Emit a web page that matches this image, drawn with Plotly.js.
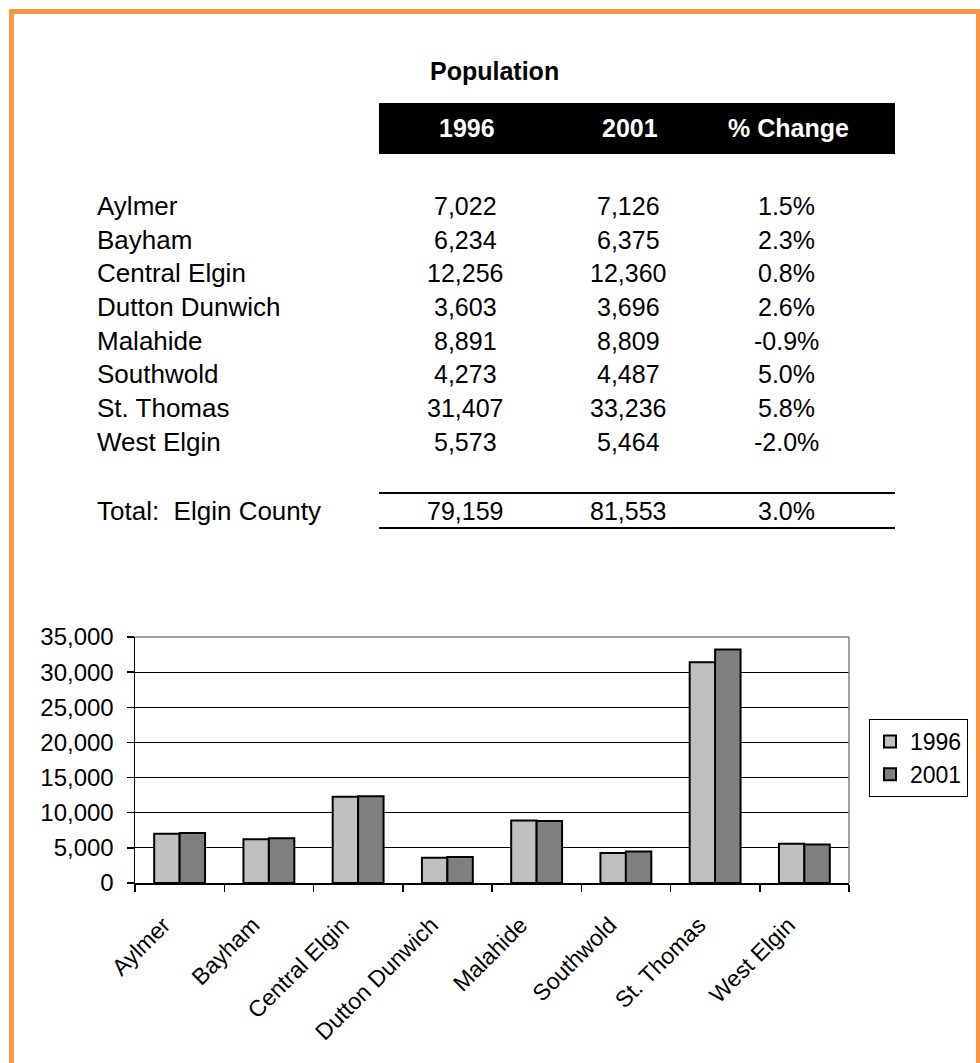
<!DOCTYPE html>
<html>
<head>
<meta charset="utf-8">
<script src="https://cdn.plot.ly/plotly-3.0.1.min.js"></script>
<style>html,body{margin:0;padding:0;background:#fff;}#chart{width:980px;height:1063px;}</style>
</head>
<body>
<div id="chart"></div>
<script>
// ---- data ----
const municipalities = ["Aylmer","Bayham","Central Elgin","Dutton Dunwich","Malahide","Southwold","St. Thomas","West Elgin"];
const pop1996 = [7022, 6234, 12256, 3603, 8891, 4273, 31407, 5573];
const pop2001 = [7126, 6375, 12360, 3696, 8809, 4487, 33236, 5464];
const pctChange = ["1.5%","2.3%","0.8%","2.6%","-0.9%","5.0%","5.8%","-2.0%"];
const headerLabels = ["1996","2001","% Change"];
const tableTitle = "Population";
const totalLabel = "Total:  Elgin County";
const totalValues = ["79,159","81,553","3.0%"];
const seriesNames = ["1996","2001"];

// ---- layout helpers (pixel -> paper) ----
const W = 980, H = 1063;
const px = x => x / W;
const py = y => 1 - y / H;
const FONT = "'Liberation Sans', Arial, sans-serif";
const fmt = n => n.toLocaleString("en-US");

const colX = [465, 628, 786];
const rowY0 = 206, rowStep = 33.7;

const annotations = [];
annotations.push({xref:"paper", yref:"paper", x:px(494), y:py(71), text:"<b>"+tableTitle+"</b>", showarrow:false,
  xanchor:"center", yanchor:"middle", font:{family:FONT, size:25, color:"#000"}});
headerLabels.forEach((h,i)=>annotations.push({xref:"paper", yref:"paper", x:px(colX[i]+2), y:py(128), text:"<b>"+h+"</b>",
  showarrow:false, xanchor:"center", yanchor:"middle", font:{family:FONT, size:25, color:"#fff"}}));
municipalities.forEach((m,r)=>{
  const y = py(rowY0 + r*rowStep);
  const cells = [fmt(pop1996[r]), fmt(pop2001[r]), pctChange[r]];
  annotations.push({xref:"paper", yref:"paper", x:px(95), y:y, text:m, showarrow:false, xanchor:"left", yanchor:"middle",
    font:{family:FONT, size:26, color:"#000"}});
  cells.forEach((c,i)=>annotations.push({xref:"paper", yref:"paper", x:px(colX[i]), y:y, text:c, showarrow:false,
    xanchor:"center", yanchor:"middle", font:{family:FONT, size:25, color:"#000"}}));
});
annotations.push({xref:"paper", yref:"paper", x:px(95), y:py(511), text:totalLabel, showarrow:false, xanchor:"left", yanchor:"middle",
  font:{family:FONT, size:26, color:"#000"}});
totalValues.forEach((c,i)=>annotations.push({xref:"paper", yref:"paper", x:px(colX[i]), y:py(511), text:c, showarrow:false,
  xanchor:"center", yanchor:"middle", font:{family:FONT, size:25, color:"#000"}}));

const plotL = 135, plotR = 849, plotT = 637, plotB = 883;

const shapes = [
  // orange page border
  {type:"rect", xref:"paper", yref:"paper", x0:px(11.5), x1:px(978.5), y0:py(1075), y1:py(11.5),
   line:{color:"#f79646", width:5}, fillcolor:"rgba(0,0,0,0)", layer:"above"},
  // table header band
  {type:"rect", xref:"paper", yref:"paper", x0:px(379), x1:px(895), y0:py(154), y1:py(103),
   line:{width:0}, fillcolor:"#000", layer:"below"},
  // total rules
  {type:"line", xref:"paper", yref:"paper", x0:px(379), x1:px(895), y0:py(493), y1:py(493), line:{color:"#000", width:2}},
  {type:"line", xref:"paper", yref:"paper", x0:px(379), x1:px(895), y0:py(528), y1:py(528), line:{color:"#000", width:2}},
  // plot frame top/right in gray
  {type:"line", xref:"paper", yref:"paper", x0:px(plotL), x1:px(plotR), y0:py(plotT), y1:py(plotT), line:{color:"#808080", width:1.5}, layer:"above"},
  {type:"line", xref:"paper", yref:"paper", x0:px(plotR), x1:px(plotR), y0:py(plotT), y1:py(plotB), line:{color:"#808080", width:1.5}, layer:"above"}
];

const traces = [
  {type:"bar", name:seriesNames[0], x:municipalities, y:pop1996,
   marker:{color:"#c0c0c0", line:{color:"#000", width:2}}},
  {type:"bar", name:seriesNames[1], x:municipalities, y:pop2001,
   marker:{color:"#808080", line:{color:"#000", width:2}}}
];

const layout = {
  width:W, height:H,
  margin:{l:0, r:0, t:0, b:0, pad:0},
  paper_bgcolor:"#fff", plot_bgcolor:"#fff",
  font:{family:FONT, color:"#000"},
  barmode:"group", bargap:0.43, bargroupgap:0,
  showlegend:true,
  legend:{x:px(869), y:py(719), xanchor:"left", yanchor:"top", bgcolor:"#fff",
    bordercolor:"#000", borderwidth:1, font:{family:FONT, size:23, color:"#000"},
    itemwidth:30, tracegroupgap:0},
  xaxis:{domain:[px(plotL), px(plotR)], type:"category", tickangle:-45,
    showline:true, linecolor:"#000", linewidth:1.5, ticks:"outside", tickson:"boundaries",
    ticklen:7, tickcolor:"#000", tickwidth:1.5, showgrid:false, zeroline:false,
    ticklabelstandoff:18, ticklabelshift:-16,
    tickfont:{family:FONT, size:23, color:"#000"}, automargin:false, fixedrange:true},
  yaxis:{domain:[py(plotB), py(plotT)], range:[0,35000], dtick:5000, tick0:0, tickformat:",d",
    showline:true, linecolor:"#000", linewidth:1.5, ticks:"outside", ticklen:7, tickcolor:"#000", tickwidth:1.5,
    showgrid:true, gridcolor:"#000", gridwidth:1, zeroline:false, ticklabelstandoff:8,
    tickfont:{family:FONT, size:24, color:"#000"}, automargin:false, fixedrange:true},
  annotations:annotations,
  shapes:shapes
};

Plotly.newPlot("chart", traces, layout, {displayModeBar:false, staticPlot:true});
</script>
</body>
</html>
